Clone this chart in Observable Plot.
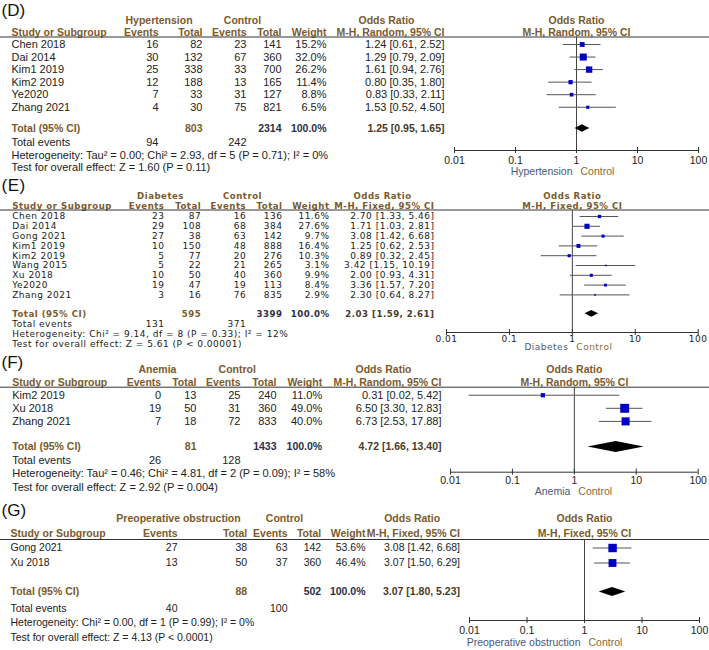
<!DOCTYPE html>
<html><head><meta charset="utf-8">
<script src="https://cdn.jsdelivr.net/npm/d3@7"></script>
<script src="https://cdn.jsdelivr.net/npm/@observablehq/plot@0.6"></script>
<style>body{margin:0;background:#fff;} #chart svg{display:block;}</style>
</head><body><div id="chart"></div>
<script>
// ---------- shared ----------
const ticks = [0.01, 0.1, 1, 10, 100];
const tickLabels = ["0.01", "0.1", "1", "10", "100"];

// ---------- (D) Hypertension ----------
const dStudies = ["Chen 2018", "Dai 2014", "Kim1 2019", "Kim2 2019", "Ye2020", "Zhang 2021"];
const dExpEvents = [16, 30, 25, 12, 7, 4];
const dExpTotal = [82, 132, 338, 188, 33, 30];
const dCtlEvents = [23, 67, 33, 13, 31, 75];
const dCtlTotal = [141, 360, 700, 165, 127, 821];
const dWeight = [15.2, 32.0, 26.2, 11.4, 8.8, 6.5];
const dOR = [1.24, 1.29, 1.61, 0.80, 0.83, 1.53];
const dLo = [0.61, 0.79, 0.94, 0.35, 0.33, 0.52];
const dHi = [2.52, 2.09, 2.76, 1.80, 2.11, 4.50];
const dTotals = [803, 2314];
const dPooled = [1.25, 0.95, 1.65];
const dTotalEvents = [94, 242];
const dHet = "Heterogeneity: Tau\u00b2 = 0.00; Chi\u00b2 = 2.93, df = 5 (P = 0.71); I\u00b2 = 0%";
const dTest = "Test for overall effect: Z = 1.60 (P = 0.11)";

// ---------- (E) Diabetes ----------
const eStudies = ["Chen 2018", "Dai 2014", "Gong 2021", "Kim1 2019", "Kim2 2019", "Wang 2015", "Xu 2018", "Ye2020", "Zhang 2021"];
const eExpEvents = [23, 29, 27, 10, 5, 5, 10, 19, 3];
const eExpTotal = [87, 108, 38, 150, 77, 22, 50, 47, 16];
const eCtlEvents = [16, 68, 63, 48, 20, 21, 40, 19, 76];
const eCtlTotal = [136, 384, 142, 888, 276, 265, 360, 113, 835];
const eWeight = [11.6, 27.6, 9.7, 16.4, 10.3, 3.1, 9.9, 8.4, 2.9];
const eOR = [2.70, 1.71, 3.08, 1.25, 0.89, 3.42, 2.00, 3.36, 2.30];
const eLo = [1.33, 1.03, 1.42, 0.62, 0.32, 1.15, 0.93, 1.57, 0.64];
const eHi = [5.46, 2.81, 6.68, 2.53, 2.45, 10.19, 4.31, 7.20, 8.27];
const eTotals = [595, 3399];
const ePooled = [2.03, 1.59, 2.61];
const eTotalEvents = [131, 371];
const eHet = "Heterogeneity: Chi\u00b2 = 9.14, df = 8 (P = 0.33); I\u00b2 = 12%";
const eTest = "Test for overall effect: Z = 5.61 (P < 0.00001)";

// ---------- (F) Anemia ----------
const fStudies = ["Kim2 2019", "Xu 2018", "Zhang 2021"];
const fExpEvents = [0, 19, 7];
const fExpTotal = [13, 50, 18];
const fCtlEvents = [25, 31, 72];
const fCtlTotal = [240, 360, 833];
const fWeight = [11.0, 49.0, 40.0];
const fOR = [0.31, 6.50, 6.73];
const fLo = [0.02, 3.30, 2.53];
const fHi = [5.42, 12.83, 17.88];
const fTotals = [81, 1433];
const fPooled = [4.72, 1.66, 13.40];
const fTotalEvents = [26, 128];
const fHet = "Heterogeneity: Tau\u00b2 = 0.46; Chi\u00b2 = 4.81, df = 2 (P = 0.09); I\u00b2 = 58%";
const fTest = "Test for overall effect: Z = 2.92 (P = 0.004)";

// ---------- (G) Preoperative obstruction ----------
const gStudies = ["Gong 2021", "Xu 2018"];
const gExpEvents = [27, 13];
const gExpTotal = [38, 50];
const gCtlEvents = [63, 37];
const gCtlTotal = [142, 360];
const gWeight = [53.6, 46.4];
const gOR = [3.08, 3.07];
const gLo = [1.42, 1.50];
const gHi = [6.68, 6.29];
const gTotals = [88, 502];
const gPooled = [3.07, 1.80, 5.23];
const gTotalEvents = [40, 100];
const gHet = "Heterogeneity: Chi\u00b2 = 0.00, df = 1 (P = 0.99); I\u00b2 = 0%";
const gTest = "Test for overall effect: Z = 4.13 (P < 0.0001)";

// ---------- drawing ----------
const BROWN = "#7b5a2c", DARK = "#2b2f4a", BODY = "#222", LINE = "#333";

function forest(L, D) {
  const Y = v => v - L.top;
  const rows = D.studies.map((s, i) => ({
    study: s, ee: D.ee[i], te: D.te[i], ce: D.ce[i], ct: D.ct[i],
    w: D.w[i], or: D.or[i], lo: D.lo[i], hi: D.hi[i], y: Y(L.row0 + i * L.step)
  }));
  const fmt = (o, l, h) => `${o.toFixed(2)} [${l.toFixed(2)}, ${h.toFixed(2)}]`;
  const lab = (str, x, y, o = {}) => Plot.text([str], {
    text: d => d, y: () => Y(y), frameAnchor: "left", dx: x, textAnchor: "start", fill: BODY, ...o
  });
  const col = (acc, x, o = {}) => Plot.text(rows, {
    text: acc, y: "y", frameAnchor: "left", dx: x, textAnchor: "end", fill: BODY, ...o
  });
  const bold = {fontWeight: "bold", fill: BROWN, fontSize: L.fsb};
  const ty = Y(L.total);
  const [po, pl, ph] = D.pooled;
  const dia = [
    {x: pl, y1: ty, y2: ty},
    {x: po, y1: ty - L.dh, y2: ty + L.dh},
    {x: ph, y1: ty, y2: ty}
  ];
  const C = L.cols;
  return Plot.plot({
    width: 709, height: L.h,
    marginLeft: 0, marginRight: 0, marginTop: 0, marginBottom: 0,
    x: {type: "log", domain: [ticks[0], ticks[ticks.length - 1]], range: L.xr, axis: null},
    y: {domain: [0, L.h], range: [0, L.h], axis: null},
    r: {type: "sqrt", domain: [0, 100], range: [0, L.rmax]},
    style: {fontFamily: L.font, fontSize: L.fs + "px", overflow: "visible", letterSpacing: L.ls || "0px", background: "#fff"},
    marks: [
      // title
      lab(L.title, 1, L.titleY, {fontSize: 17, fontFamily: "Liberation Sans, Arial, sans-serif", fill: "#111", letterSpacing: "0px"}),
      // header row 1
      lab(L.expLabel, C.h1exp, L.h1, {...bold, textAnchor: "middle"}),
      lab("Control", C.h1ctl, L.h1, {...bold, textAnchor: "middle"}),
      lab("Odds Ratio", C.h1or, L.h1, {...bold, textAnchor: "middle"}),
      Plot.text([1], {x: d => d, y: () => Y(L.h1), text: () => "Odds Ratio", ...bold}),
      // header row 2
      lab("Study or Subgroup", C.study, L.h2, bold),
      lab("Events", C.ee, L.h2, {...bold, textAnchor: "end"}),
      lab("Total", C.te, L.h2, {...bold, textAnchor: "end"}),
      lab("Events", C.ce, L.h2, {...bold, textAnchor: "end"}),
      lab("Total", C.ct, L.h2, {...bold, textAnchor: "end"}),
      lab("Weight", C.w, L.h2, {...bold, textAnchor: "end"}),
      lab(L.method, C.or, L.h2, {...bold, textAnchor: "end"}),
      Plot.text([1], {x: d => d, y: () => Y(L.h2), text: () => L.method, ...bold}),
      Plot.ruleY([Y(L.line)], {stroke: LINE, strokeWidth: 1}),
      // study rows
      Plot.text(rows, {text: "study", y: "y", frameAnchor: "left", dx: C.study, textAnchor: "start", fill: BODY}),
      col("ee", C.ee), col("te", C.te), col("ce", C.ce), col("ct", C.ct),
      col(d => d.w.toFixed(1) + "%", C.w),
      col(d => fmt(d.or, d.lo, d.hi), C.or),
      // total row
      lab("Total (95% CI)", C.study, L.total, bold),
      lab(String(D.totals[0]), C.te, L.total, {...bold, textAnchor: "end"}),
      lab(String(D.totals[1]), C.ct, L.total, {...bold, fill: DARK, textAnchor: "end"}),
      lab("100.0%", C.w, L.total, {...bold, fill: DARK, textAnchor: "end"}),
      lab(fmt(po, pl, ph), C.or, L.total, {...bold, fill: "#4a3a28", textAnchor: "end"}),
      lab("Total events", C.study, L.events),
      lab(String(D.tev[0]), C.ee, L.events, {textAnchor: "end"}),
      lab(String(D.tev[1]), C.ce, L.events, {textAnchor: "end"}),
      lab(D.het, C.study, L.het),
      lab(D.test, C.study, L.test),
      // forest
      Plot.ruleX([1], {x: d => d, y1: () => Y(L.line), y2: () => Y(L.axis), stroke: "#444"}),
      Plot.ruleY(rows, {y: "y", x1: "lo", x2: "hi", stroke: "#555", strokeWidth: 1}),
      Plot.dot(rows, {x: "or", y: "y", r: "w", symbol: "square", fill: "#0000c4", stroke: "none"}),
      Plot.areaY(dia, {x: "x", y1: "y1", y2: "y2", fill: "#000", curve: "linear"}),
      // axis
      Plot.ruleY([Y(L.axis)], {x1: () => ticks[0], x2: () => ticks[ticks.length - 1], stroke: LINE}),
      Plot.ruleX(ticks, {x: d => d, y1: () => Y(L.axis) - 3, y2: () => Y(L.axis) + 3, stroke: LINE}),
      Plot.text(ticks, {x: d => d, y: () => Y(L.tickY), text: (d, i) => tickLabels[i], fill: BODY, fontSize: L.fsTick}),
      Plot.text([1], {x: d => d, y: () => Y(L.subY), text: () => L.expLabel, textAnchor: "end", dx: -4, fill: "#4a5878", fontSize: L.fsTick}),
      Plot.text([1], {x: d => d, y: () => Y(L.subY), text: () => "Control", textAnchor: "start", dx: 4, fill: "#8a6a38", fontSize: L.fsTick})
    ]
  });
}

const LS = "Liberation Sans, Arial, sans-serif";
const DV = "DejaVu Sans, Verdana, sans-serif";

const panels = [
  [{top: 0, h: 174, title: "(D)", titleY: 10.5, expLabel: "Hypertension", method: "M-H, Random, 95% CI",
    font: LS, fs: 11, fsb: 10.5, fsTick: 10.5,
    h1: 20, h2: 32.5, line: 36.5, row0: 44, step: 12.55, total: 128, events: 142, het: 154.7, test: 166.7,
    axis: 150, tickY: 160, subY: 171, xr: [454, 698], rmax: 7, dh: 3.8,
    cols: {study: 11, h1exp: 158.5, h1ctl: 242, h1or: 386, ee: 158, te: 202, ce: 246, ct: 281, w: 326, or: 444}},
   {studies: dStudies, ee: dExpEvents, te: dExpTotal, ce: dCtlEvents, ct: dCtlTotal, w: dWeight, or: dOR, lo: dLo, hi: dHi,
    totals: dTotals, pooled: dPooled, tev: dTotalEvents, het: dHet, test: dTest}],
  [{top: 174, h: 176, title: "(E)", titleY: 185, expLabel: "Diabetes", method: "M-H, Fixed, 95% CI",
    font: DV, fs: 9, fsb: 8.6, fsTick: 9, ls: "0.5px",
    h1: 196, h2: 205.5, line: 209.5, row0: 216, step: 9.8, total: 313.3, events: 324, het: 334, test: 344,
    axis: 332, tickY: 338.5, subY: 347, xr: [446, 697.7], rmax: 5.5, dh: 3.4,
    cols: {study: 11.7, h1exp: 160, h1ctl: 242, h1or: 382, ee: 164, te: 200.7, ce: 245.7, ct: 282, w: 329, or: 434}},
   {studies: eStudies, ee: eExpEvents, te: eExpTotal, ce: eCtlEvents, ct: eCtlTotal, w: eWeight, or: eOR, lo: eLo, hi: eHi,
    totals: eTotals, pooled: ePooled, tev: eTotalEvents, het: eHet, test: eTest}],
  [{top: 350, h: 145, title: "(F)", titleY: 362.5, expLabel: "Anemia", method: "M-H, Random, 95% CI",
    font: LS, fs: 11, fsb: 10.5, fsTick: 10.5,
    h1: 369, h2: 382, line: 386.7, row0: 394.7, step: 13.1, total: 446.5, events: 460, het: 472.5, test: 486.5,
    axis: 471.7, tickY: 480, subY: 491, xr: [450, 697.7], rmax: 7.2, dh: 5.5,
    cols: {study: 11.7, h1exp: 157, h1ctl: 236.7, h1or: 383, ee: 160.7, te: 196, ce: 240, ct: 276, w: 321.7, or: 441}},
   {studies: fStudies, ee: fExpEvents, te: fExpTotal, ce: fCtlEvents, ct: fCtlTotal, w: fWeight, or: fOR, lo: fLo, hi: fHi,
    totals: fTotals, pooled: fPooled, tev: fTotalEvents, het: fHet, test: fTest}],
  [{top: 495, h: 155, title: "(G)", titleY: 510, expLabel: "Preoperative obstruction", method: "M-H, Fixed, 95% CI",
    font: LS, fs: 10.5, fsb: 10.5, fsTick: 10.5,
    h1: 518.3, h2: 533, line: 539, row0: 547.5, step: 15, total: 591.5, events: 607.8, het: 622.2, test: 637.2,
    axis: 620, tickY: 630, subY: 641.7, xr: [469, 699], rmax: 6.5, dh: 4.5,
    cols: {study: 10, h1exp: 178, h1ctl: 284, h1or: 411.7, ee: 177, te: 246.7, ce: 287, ct: 320.7, w: 365, or: 459.5}},
   {studies: gStudies, ee: gExpEvents, te: gExpTotal, ce: gCtlEvents, ct: gCtlTotal, w: gWeight, or: gOR, lo: gLo, hi: gHi,
    totals: gTotals, pooled: gPooled, tev: gTotalEvents, het: gHet, test: gTest}]
];

const root = document.getElementById("chart");
for (const [L, D] of panels) root.appendChild(forest(L, D));
</script>
</body></html>
